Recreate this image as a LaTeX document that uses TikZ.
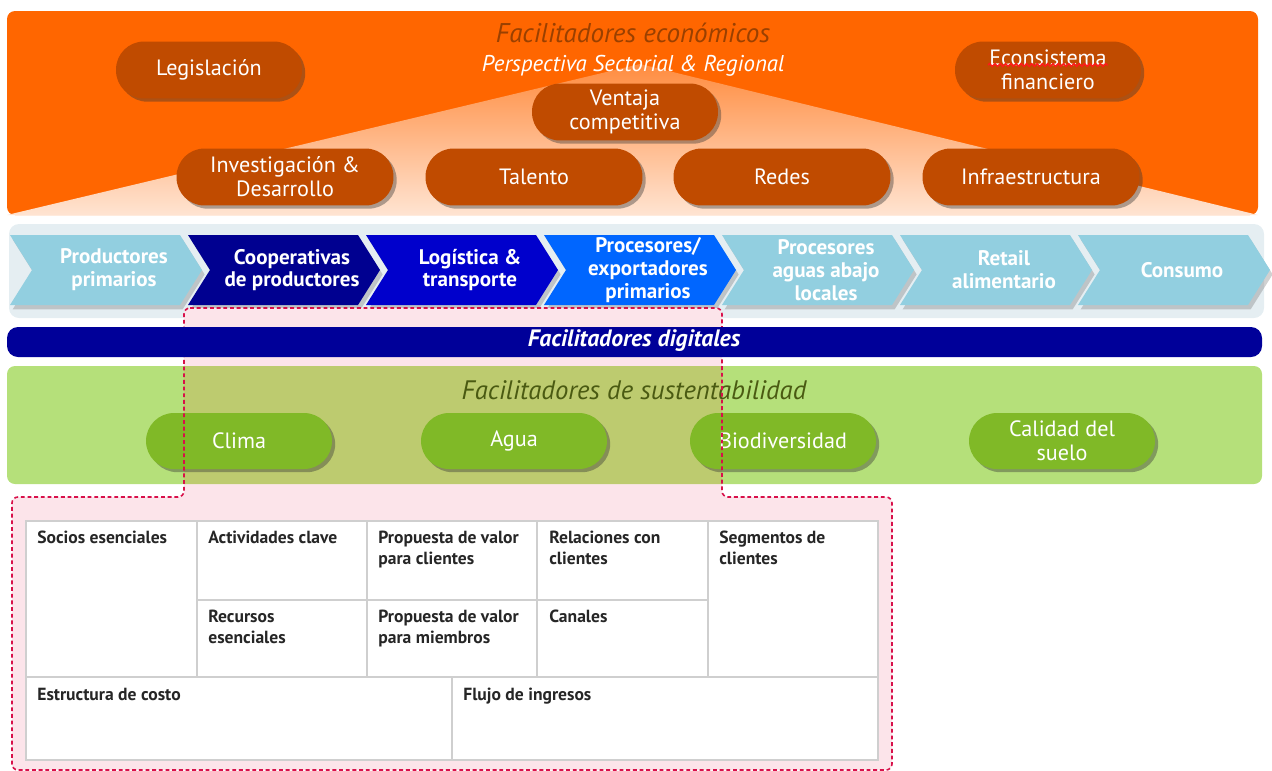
\documentclass[tikz,border=0pt]{standalone}
\usepackage{fontspec}
\setmainfont{PT Sans}
\usetikzlibrary{shadows,decorations.pathmorphing}

\definecolor{ecoorange}{HTML}{FF6600}
\definecolor{ecolight}{HTML}{FF8C3F}
\definecolor{ecopeach}{HTML}{FFE4D2}
\definecolor{ecopill}{HTML}{C04B00}
\definecolor{ecotitle}{HTML}{9A4000}
\definecolor{chevlight}{HTML}{92CFE0}
\definecolor{chevnavy}{HTML}{000090}
\definecolor{chevblue}{HTML}{0000CC}
\definecolor{chevbright}{HTML}{0066FF}
\definecolor{chevpanel}{HTML}{E5EEF2}
\definecolor{digbar}{HTML}{000099}
\definecolor{susgreen}{HTML}{B5E07A}
\definecolor{susolive}{HTML}{BDCB6F}
\definecolor{suspill}{HTML}{80B927}
\definecolor{sustitle}{HTML}{4A5A12}
\definecolor{canvaspink}{HTML}{FCE4EA}
\definecolor{canvasdash}{HTML}{D8104A}
\definecolor{cellgray}{HTML}{CFCFCF}
\definecolor{spellred}{HTML}{FF1A1A}

\tikzset{
  pillshadow/.style={drop shadow={shadow xshift=1.8pt, shadow yshift=-1.8pt, opacity=0.4, fill=black!80}},
  orpill/.style={fill=ecopill, text=white, rounded corners=0.56cm, minimum width=3.72cm,
    minimum height=1.14cm, align=center, inner sep=2pt, pillshadow,
    font=\fontsize{12.6}{13.8}\selectfont},
  widepill/.style={orpill, minimum width=4.34cm},
  grpill/.style={orpill, fill=suspill, minimum height=1.12cm},
  chevshadow/.style={drop shadow={shadow xshift=1.5pt, shadow yshift=-2.5pt, opacity=0.3, fill=black!60}},
  chevtext/.style={text=white, align=center, font=\bfseries\fontsize{12}{13}\selectfont},
  celltext/.style={anchor=north west, inner sep=0pt, align=left, text=black!85,
    font=\bfseries\fontsize{10}{11.9}\selectfont},
}

\begin{document}
\begin{tikzpicture}[x=0.02cm, y=-0.02cm]
	\useasboundingbox (0,0) rectangle (1272,771);

	% economic enablers
	\fill[ecoorange, rounded corners=0.16cm] (7,11) rectangle (1258,215);
	\shade[top color=ecolight, bottom color=ecopeach] (7,215) -- (640,64) -- (1258,215) -- cycle;
	\node[text=ecotitle, font=\itshape\fontsize{15.4}{17}\selectfont] (ectitle) at (633,33) {Facilitadores económicos};
	\node[text=white, font=\itshape\fontsize{13}{15}\selectfont] (persp) at (633,66) {Perspectiva Sectorial \& Regional};

	\node[orpill] (legis) at (209,70) {Legislación};
	\node[orpill] (ventaja) at (625,112) {Ventaja\\competitiva};
	\node[orpill] (ecosis) at (1048,70) {Econsistema\\financiero};
	\coordinate (spellA) at (988,65);
	\coordinate (spellB) at (1108,65);
	\draw[spellred, line width=0.8pt, decorate, decoration={snake, amplitude=0.8pt, segment length=3pt}]
		(spellA) -- (spellB);
	\node[widepill] (inves) at (285,177) {Investigación \&\\Desarrollo};
	\node[widepill] (talento) at (534,177) {Talento};
	\node[widepill] (redes) at (782,177) {Redes};
	\node[widepill] (infra) at (1031,177) {Infraestructura};

	% value chain
	\fill[chevpanel, rounded corners=0.2cm] (9,224) rectangle (1264,318);
	\foreach \i/\col/\txt in {0/chevlight/{Productores\\primarios},
		1/chevnavy/{Cooperativas\\de productores},
		2/chevblue/{Logística \&\\transporte},
		3/chevbright/{Procesores/\\exportadores\\primarios},
		4/chevlight/{Procesores\\aguas abajo\\locales},
		5/chevlight/{Retail\\alimentario},
		6/chevlight/{Consumo}}{
	\pgfmathsetmacro{\xl}{10+178*\i}
	\fill[fill=\col, chevshadow] (\xl,235) -- ++(170,0) -- ++(22,35) -- ++(-22,35) -- ++(-170,0) -- ++(22,-35) -- cycle;
	\node[chevtext] (ch\i) at (\xl+104,270) {\txt};
	}

	% canvas region
	\fill[canvaspink, rounded corners=0.12cm] (184,308) -- (722,308) -- (722,497) -- (892,497) -- (892,770)
		-- (12,770) -- (12,497) -- (184,497) -- cycle;

	% sustainability enablers
	\fill[susgreen, rounded corners=0.16cm] (7,366) rectangle (1262,484);
	\fill[susolive] (184,366) rectangle (722,484);
	\node[text=sustitle, font=\itshape\fontsize{15.2}{17}\selectfont] (sustitle) at (634,390) {Facilitadores de sustentabilidad};
	\node[grpill] (clima) at (239,441) {Clima};
	\node[grpill] (agua) at (514,441) {Agua};
	\node[grpill] (biodiv) at (783,441) {Biodiversidad};
	\node[grpill] (suelo) at (1062,441) {Calidad del\\suelo};

	% business model canvas
	\draw[cellgray, line width=0.8pt, fill=white] (26,521) rectangle (878,760);
	\draw[cellgray, line width=0.8pt] (26,677) -- (878,677) (197,600) -- (708,600)
		(197,521) -- (197,677) (367,521) -- (367,677) (537,521) -- (537,677) (708,521) -- (708,677)
		(452,677) -- (452,760);
	\node[celltext] (socios) at (37,531) {Socios esenciales};
	\node[celltext] (activ) at (208,531) {Actividades clave};
	\node[celltext] (propcli) at (378,531) {Propuesta de valor\\para clientes};
	\node[celltext] (relac) at (549,531) {Relaciones con\\clientes};
	\node[celltext] (segm) at (719,531) {Segmentos de\\clientes};
	\node[celltext] (recur) at (208,610) {Recursos\\esenciales};
	\node[celltext] (propmie) at (378,610) {Propuesta de valor\\para miembros};
	\node[celltext] (canal) at (549,610) {Canales};
	\node[celltext] (costo) at (37,688) {Estructura de costo};
	\node[celltext] (flujo) at (463,688) {Flujo de ingresos};

	\draw[canvasdash, line width=0.9pt, dash pattern=on 2.2pt off 1.6pt, rounded corners=0.12cm]
		(184,308) -- (722,308) -- (722,497) -- (892,497) -- (892,770)
		-- (12,770) -- (12,497) -- (184,497) -- cycle;

	% digital enablers
	\fill[digbar, rounded corners=0.22cm] (7,327) rectangle (1262,357);
	\node[text=white, font=\bfseries\itshape\fontsize{13.5}{15}\selectfont] (digital) at (634,341) {Facilitadores digitales};
\end{tikzpicture}
\end{document}
